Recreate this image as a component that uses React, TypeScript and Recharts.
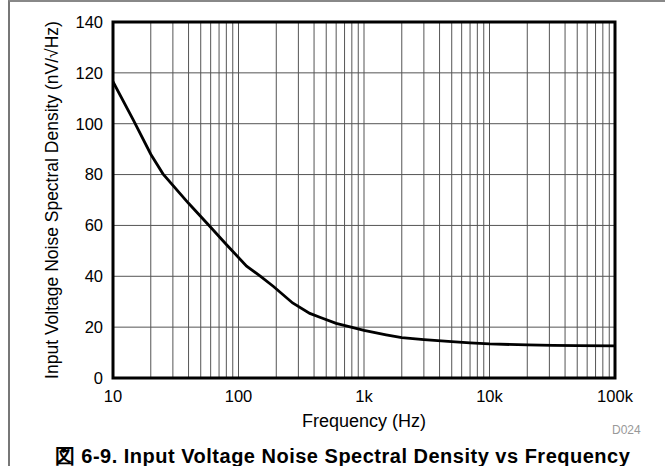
import { LineChart, Line, XAxis, YAxis, CartesianGrid, ReferenceArea } from 'recharts'

// frequency (Hz) and noise density (nV/√Hz)
const freqs = [10, 14.5, 20, 25, 40, 60, 80, 116, 150, 190, 270, 370, 450, 600, 1000, 1500, 2000, 3000, 5000, 7000, 10000, 20000, 32000, 50000, 100000]
const noise = [116.5, 101.5, 88, 80.3, 68.7, 59.3, 52.5, 44, 40, 36, 29.5, 25.4, 23.8, 21.5, 18.7, 17, 15.9, 15.1, 14.3, 13.8, 13.4, 13, 12.8, 12.7, 12.6]

const xTicks = [
  10, 20, 30, 40, 50, 60, 70, 80, 90,
  100, 200, 300, 400, 500, 600, 700, 800, 900,
  1000, 2000, 3000, 4000, 5000, 6000, 7000, 8000, 9000,
  10000, 20000, 30000, 40000, 50000, 60000, 70000, 80000, 90000,
  100000,
]
const yTicks = [0, 20, 40, 60, 80, 100, 120, 140]
const decadeLabels: Record<number, string> = { 10: '10', 100: '100', 1000: '1k', 10000: '10k', 100000: '100k' }

const data = freqs.map((f, i) => ({ freq: f, noise: noise[i] }))

const font = '"Liberation Sans", Arial, Helvetica, sans-serif'

export default function App() {
  return (
    <div style={{ position: 'absolute', left: 0, top: 0, width: 665, height: 466, background: '#fff', fontFamily: font }}>
      <div style={{ position: 'absolute', left: 8, top: 0, width: 657, height: 466, borderTop: '2px solid #888', borderLeft: '2px solid #777', boxSizing: 'border-box' }} />
      <LineChart
        width={665}
        height={440}
        data={data}
        margin={{ top: 22, right: 50, left: 0, bottom: 0 }}
        style={{ position: 'absolute', left: 0, top: 0 }}
      >
        <CartesianGrid stroke="#555" strokeWidth={1} />
        <XAxis
          dataKey="freq"
          type="number"
          scale="log"
          domain={[10, 100000]}
          ticks={xTicks}
          interval={0}
          height={62}
          tickSize={0}
          tickMargin={12}
          axisLine={false}
          tickFormatter={(v: number) => decadeLabels[v] ?? ''}
          tick={{ fill: '#000', fontSize: 16.5, fontFamily: font }}
          label={{ value: 'Frequency (Hz)', position: 'insideBottom', offset: 13, fill: '#000', fontSize: 18, fontFamily: font }}
          allowDataOverflow
        />
        <YAxis
          type="number"
          domain={[0, 140]}
          ticks={yTicks}
          interval={0}
          width={113}
          tickSize={0}
          tickMargin={10}
          axisLine={false}
          tick={{ fill: '#000', fontSize: 16.5, fontFamily: font }}
          label={{
            value: 'Input Voltage Noise Spectral Density (nV/\u221AHz)',
            angle: -90,
            position: 'insideLeft',
            offset: 52,
            fill: '#000',
            fontSize: 17.5,
            fontFamily: font,
            style: { textAnchor: 'middle' },
          }}
        />
        <ReferenceArea x1={10} x2={100000} y1={0} y2={140} fill="none" stroke="#000" strokeWidth={3} />
        <Line
          dataKey="noise"
          type="linear"
          stroke="#000"
          strokeWidth={2.8}
          dot={false}
          isAnimationActive={false}
        />
      </LineChart>
      <div style={{ position: 'absolute', left: 612, top: 423, fontSize: 12, color: '#999' }}>D024</div>
      <div style={{ position: 'absolute', left: 0, width: 685, top: 443, textAlign: 'center', fontSize: 20, letterSpacing: 0.5, fontWeight: 'bold', color: '#000', whiteSpace: 'nowrap' }}>
        図 6-9. Input Voltage Noise Spectral Density vs Frequency
      </div>
    </div>
  )
}
